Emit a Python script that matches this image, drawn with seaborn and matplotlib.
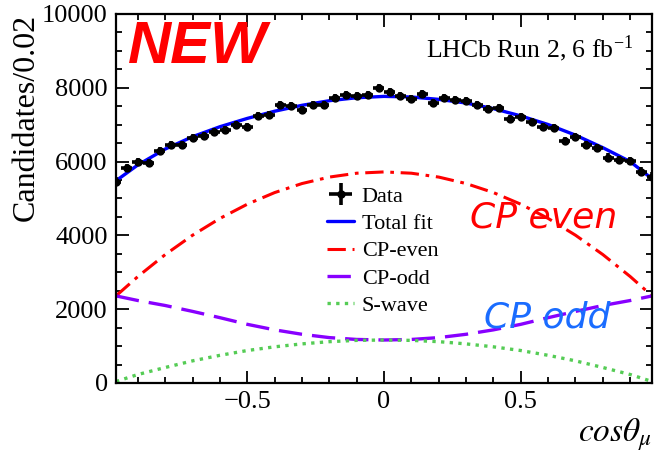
import numpy as np
import pandas as pd
import matplotlib
matplotlib.use('Agg')
import matplotlib.pyplot as plt
import seaborn as sns
from matplotlib.ticker import MultipleLocator, FixedLocator, FixedFormatter

# Data points (bin centres and counts)
data_x = [-0.98, -0.94, -0.90, -0.86, -0.82, -0.78, -0.74, -0.70, -0.66, -0.62,
          -0.58, -0.54, -0.50, -0.46, -0.42, -0.38, -0.34, -0.30, -0.26, -0.22,
          -0.18, -0.14, -0.10, -0.06, -0.02, 0.02, 0.06, 0.10, 0.14, 0.18,
          0.22, 0.26, 0.30, 0.34, 0.38, 0.42, 0.46, 0.50, 0.54, 0.58,
          0.62, 0.66, 0.70, 0.74, 0.78, 0.82, 0.86, 0.90, 0.94, 0.98]
data_y = [5460, 5820, 6000, 5955, 6290, 6450, 6450, 6630, 6690, 6810,
          6850, 7000, 6940, 7240, 7270, 7540, 7510, 7390, 7525, 7540,
          7720, 7810, 7775, 7795, 7990, 7885, 7775, 7705, 7840, 7595,
          7720, 7660, 7630, 7540, 7435, 7455, 7165, 7210, 7075, 6940,
          6915, 6555, 6675, 6450, 6375, 6110, 6045, 6020, 5730, 5595]
data_yerr = 110

# Fit curves
curve_x = [-0.98, -0.9, -0.8, -0.7, -0.6, -0.5, -0.4, -0.3, -0.2, -0.1, 0.0,
           0.1, 0.2, 0.3, 0.4, 0.5, 0.6, 0.7, 0.8, 0.9, 0.98]
total_fit = [5480, 5910, 6340, 6675, 6945, 7170, 7365, 7525, 7650, 7730, 7767,
             7750, 7686, 7587, 7435, 7238, 7004, 6717, 6377, 6000, 5534]
cp_even = [2360, 2885, 3480, 4005, 4460, 4845, 5160, 5405, 5580, 5685, 5720,
           5685, 5580, 5405, 5160, 4845, 4460, 4005, 3480, 2885, 2360]
cp_odd = [2360, 2235, 2100, 1940, 1770, 1590, 1440, 1320, 1230, 1180, 1165,
          1180, 1230, 1320, 1440, 1590, 1770, 1940, 2100, 2235, 2360]
s_wave = [40, 230, 420, 600, 750, 880, 980, 1060, 1120, 1155, 1165,
          1155, 1120, 1060, 980, 880, 750, 600, 420, 230, 40]

x_ticks = [-0.5, 0.0, 0.5]
x_tick_labels = ['\u22120.5', '0', '0.5']
y_ticks = [0, 2000, 4000, 6000, 8000, 10000]

sns.set_style('ticks')
plt.rcParams['font.family'] = 'serif'
plt.rcParams['font.serif'] = ['Liberation Serif', 'DejaVu Serif']
plt.rcParams['mathtext.fontset'] = 'stix'
for k in ['text.color', 'axes.labelcolor', 'xtick.color', 'ytick.color', 'axes.edgecolor']:
    plt.rcParams[k] = 'black'

fig = plt.figure(figsize=(6.58, 4.54), dpi=100)
ax = fig.add_axes([0.1763, 0.1564, 0.8147, 0.8128])

curves = pd.DataFrame({'x': curve_x, 'total': total_fit, 'even': cp_even,
                       'odd': cp_odd, 'swave': s_wave})

sns.lineplot(data=curves, x='x', y='even', ax=ax, color='#ff0000', lw=2.2,
             linestyle=(0, (6, 2.2, 1.2, 2.2)), label='CP-even', errorbar=None)
sns.lineplot(data=curves, x='x', y='odd', ax=ax, color='#8800ff', lw=2.4,
             linestyle=(0, (7, 3)), label='CP-odd', errorbar=None)
sns.lineplot(data=curves, x='x', y='swave', ax=ax, color='#55cc55', lw=2.4,
             linestyle=(0, (1, 1.6)), label='S-wave', errorbar=None)
sns.lineplot(data=curves, x='x', y='total', ax=ax, color='#0000ff', lw=2.4,
             label='Total fit', errorbar=None)
eb = ax.errorbar(data_x, data_y, xerr=0.02, yerr=data_yerr, fmt='o', color='black',
                 ms=5, elinewidth=2.6, capsize=0, label='Data', zorder=5)

lines = {l.get_label(): l for l in ax.get_lines()}
handles = [eb, lines['Total fit'], lines['CP-even'], lines['CP-odd'], lines['S-wave']]
labels = ['Data', 'Total fit', 'CP-even', 'CP-odd', 'S-wave']
ax.legend(handles, labels, loc='upper left', bbox_to_anchor=(0.365, 0.575),
          frameon=False, fontsize=16, handlelength=1.2, handletextpad=0.35,
          labelspacing=0.3, borderpad=0.2)

ax.set_xlim(-0.98, 0.98)
ax.set_ylim(0, 10000)
ax.xaxis.set_major_locator(FixedLocator(x_ticks))
ax.xaxis.set_major_formatter(FixedFormatter(x_tick_labels))
ax.xaxis.set_minor_locator(MultipleLocator(0.1))
ax.yaxis.set_major_locator(FixedLocator(y_ticks))
ax.yaxis.set_minor_locator(MultipleLocator(500))
ax.tick_params(which='both', direction='in', top=True, right=True,
               width=1.3, labelsize=19, pad=6)
ax.tick_params(which='major', length=9)
ax.tick_params(which='minor', length=4.5)
for sp in ax.spines.values():
    sp.set_linewidth(1.6)
    sp.set_visible(True)

ax.set_xlabel(r'$cos\theta_{\mu}$', fontsize=24, loc='right', labelpad=2)
ax.set_ylabel('Candidates/0.02', fontsize=23, loc='top', labelpad=1)

ax.text(0.965, 0.905, r'LHCb Run 2, 6 fb$^{\mathregular{-1}}$', transform=ax.transAxes,
        ha='right', va='center', fontsize=18.5)
fig.text(0.195, 0.895, 'NEW', color='#ff0000', fontsize=43, fontweight='bold',
         fontstyle='italic', family='Liberation Sans', ha='left', va='center')
fig.text(0.715, 0.52, 'CP even', color='#ff0000', fontsize=26, fontstyle='italic',
         family='DejaVu Sans', ha='left', va='center')
fig.text(0.735, 0.30, 'CP odd', color='#1a6cff', fontsize=26, fontstyle='italic',
         family='DejaVu Sans', ha='left', va='center')

fig.savefig('out.png', dpi=100)
